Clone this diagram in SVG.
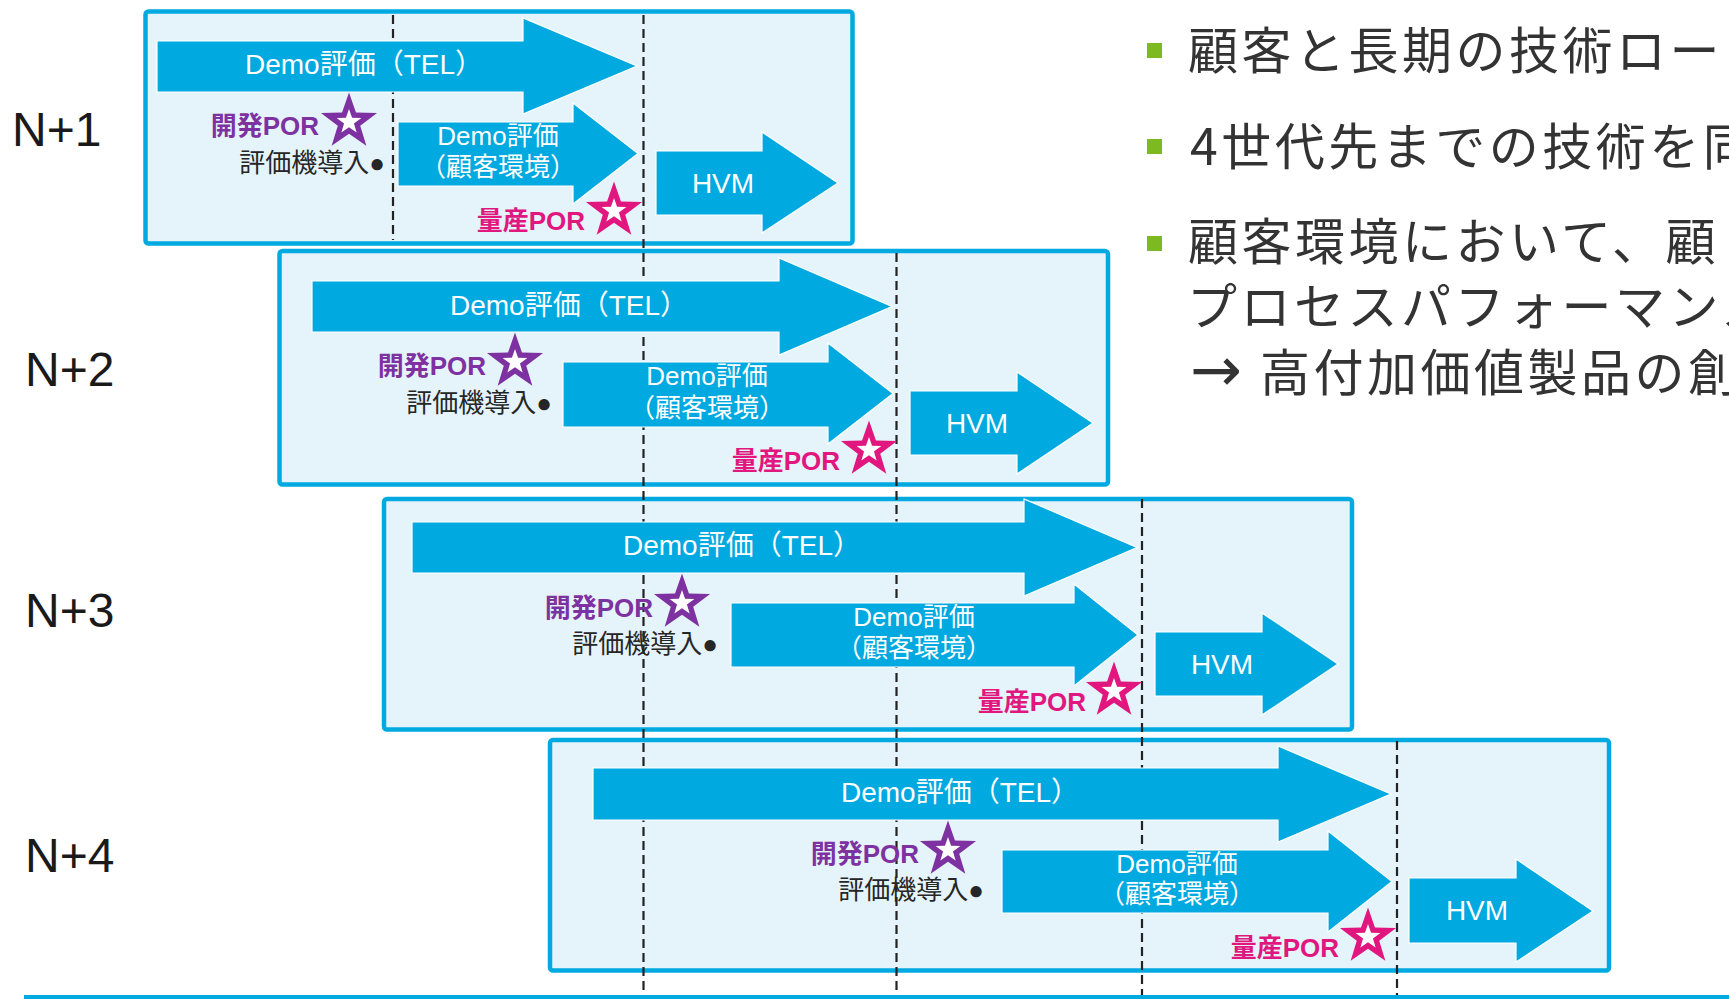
<svg xmlns="http://www.w3.org/2000/svg" xmlns:xlink="http://www.w3.org/1999/xlink" width="1729" height="1001" viewBox="0 0 1729 1001">
<style>
.frame{fill:#E5F4FA;stroke:#00A9E0;stroke-width:4.5}
.arr{fill:#00A9E0;stroke:#FFFFFF;stroke-width:1.2}
.guide{stroke:#222222;stroke-width:2.2;stroke-dasharray:9 5;fill:none}
.f{font-family:"Liberation Sans","Noto Sans CJK JP",sans-serif}
.wt{fill:#FFFFFF}
.tel{font-size:28px}
.cust{font-size:26px;text-anchor:middle}
.hvm{font-size:28px;text-anchor:middle}
.dev{fill:#7E31A1;font-weight:bold;font-size:26px;text-anchor:end}
.mass{fill:#E1177F;font-weight:bold;font-size:26px;text-anchor:end}
.intro{fill:#262626;font-size:26px;text-anchor:end}
.lbl{font-size:48px;fill:#1A1A1A}
.body{font-family:"Noto Sans CJK JP",sans-serif;font-size:50px;fill:#333333;letter-spacing:3.5px}
.bul{fill:#7CBA20}
</style>
<defs>
<g id="star">
<polygon points="0,-29.5 6.94,-9.55 28.06,-9.12 11.22,3.65 17.34,23.87 0,11.8 -17.34,23.87 -11.22,3.65 -28.06,-9.12 -6.94,-9.55"/>
<polygon fill="#FFFFFF" points="0,-13 3.06,-4.21 12.36,-4.02 4.95,1.61 7.64,10.52 0,5.2 -7.64,10.52 -4.95,1.61 -12.36,-4.02 -3.06,-4.21"/>
</g>
</defs>
<rect width="1729" height="1001" fill="#FFFFFF"/>

<g id="frames">
<rect class="frame" x="145.5" y="11.5" width="707" height="232" rx="3"/>
<rect class="frame" x="279.5" y="251" width="828.5" height="233.5" rx="3"/>
<rect class="frame" x="384" y="499" width="968" height="230.5" rx="3"/>
<rect class="frame" x="550" y="740" width="1059" height="230.5" rx="3"/>
</g>

<g id="connectors">
<line class="guide" x1="393" y1="15" x2="393" y2="240"/>
<line class="guide" x1="643.5" y1="15" x2="643.5" y2="995"/>
<line class="guide" x1="896.5" y1="253" x2="896.5" y2="995"/>
<line class="guide" x1="1142" y1="499" x2="1142" y2="995"/>
<line class="guide" x1="1397" y1="741" x2="1397" y2="995"/>
<line x1="24" y1="997" x2="1729" y2="997" stroke="#00A9E0" stroke-width="4"/>
</g>

<g id="labels" class="f">
<text class="lbl" x="12" y="146">N+1</text>
<text class="lbl" x="25" y="386">N+2</text>
<text class="lbl" x="25" y="627">N+3</text>
<text class="lbl" x="25" y="872">N+4</text>
</g>

<g id="row-n1" class="f">
<polygon class="arr" points="157,41 523,41 523,18 637,66 523,114 523,92 157,92"/>
<polygon class="arr" points="398,122 573,122 573,103 638,153.5 573,204 573,186 398,186"/>
<polygon class="arr" points="656,151 762,151 762,132 838,183 762,233 762,215 656,215"/>
<text class="wt tel" x="245" y="74">Demo評価（TEL）</text>
<text class="wt cust" x="498" y="145">Demo評価</text>
<text class="wt cust" x="498" y="176">（顧客環境）</text>
<text class="wt hvm" x="723" y="193">HVM</text>
<text class="dev" x="319" y="135">開発POR</text>
<text class="intro" x="385" y="172">評価機導入●</text>
<text class="mass" x="585" y="230">量産POR</text>
<use xlink:href="#star" x="349" y="122" fill="#7E31A1"/>
<use xlink:href="#star" x="614" y="211" fill="#E1177F"/>
</g>

<g id="row-n2" class="f">
<polygon class="arr" points="312,281 779,281 779,258 892,306.5 779,355 779,332 312,332"/>
<polygon class="arr" points="563,362 828,362 828,343 893,393.5 828,444 828,427 563,427"/>
<polygon class="arr" points="910,391 1017,391 1017,372 1093,423 1017,474 1017,455 910,455"/>
<text class="wt tel" x="450" y="315">Demo評価（TEL）</text>
<text class="wt cust" x="707" y="385">Demo評価</text>
<text class="wt cust" x="707" y="417">（顧客環境）</text>
<text class="wt hvm" x="977" y="433">HVM</text>
<text class="dev" x="486" y="375">開発POR</text>
<text class="intro" x="552" y="412">評価機導入●</text>
<text class="mass" x="840" y="470">量産POR</text>
<use xlink:href="#star" x="515" y="362" fill="#7E31A1"/>
<use xlink:href="#star" x="869" y="450" fill="#E1177F"/>
</g>

<g id="row-n3" class="f">
<polygon class="arr" points="412,522 1024,522 1024,499 1137,547.5 1024,596 1024,573 412,573"/>
<polygon class="arr" points="731,603 1074,603 1074,584 1138,635 1074,686 1074,667 731,667"/>
<polygon class="arr" points="1155,632 1262,632 1262,613 1338,664 1262,715 1262,696 1155,696"/>
<text class="wt tel" x="623" y="555">Demo評価（TEL）</text>
<text class="wt cust" x="914" y="626">Demo評価</text>
<text class="wt cust" x="914" y="657">（顧客環境）</text>
<text class="wt hvm" x="1222" y="674">HVM</text>
<text class="dev" x="653" y="617">開発POR</text>
<text class="intro" x="718" y="653">評価機導入●</text>
<text class="mass" x="1086" y="711">量産POR</text>
<use xlink:href="#star" x="682" y="603" fill="#7E31A1"/>
<use xlink:href="#star" x="1114" y="691" fill="#E1177F"/>
</g>

<g id="row-n4" class="f">
<polygon class="arr" points="593,768 1278,768 1278,746 1391,794 1278,842 1278,820 593,820"/>
<polygon class="arr" points="1002,850 1328,850 1328,831 1392,881.5 1328,932 1328,913 1002,913"/>
<polygon class="arr" points="1409,878 1516,878 1516,859 1593,911 1516,962 1516,943 1409,943"/>
<text class="wt tel" x="841" y="802">Demo評価（TEL）</text>
<text class="wt cust" x="1177" y="873">Demo評価</text>
<text class="wt cust" x="1177" y="903">（顧客環境）</text>
<text class="wt hvm" x="1477" y="920">HVM</text>
<text class="dev" x="919" y="863">開発POR</text>
<text class="intro" x="984" y="899">評価機導入●</text>
<text class="mass" x="1339" y="957">量産POR</text>
<use xlink:href="#star" x="948" y="850" fill="#7E31A1"/>
<use xlink:href="#star" x="1368" y="937" fill="#E1177F"/>
</g>

<g id="bullets">
<rect class="bul" x="1147" y="43" width="15" height="15"/>
<rect class="bul" x="1147" y="139" width="15" height="15"/>
<rect class="bul" x="1147" y="236" width="15" height="15"/>
<text class="body" x="1188" y="68.5">顧客と長期の技術ロー</text>
<text class="body" x="1190" y="164.5">4世代先までの技術を同</text>
<text class="body" x="1188" y="259.5">顧客環境において、顧</text>
<text class="body" x="1187" y="324.5">プロセスパフォーマンス</text>
<text class="body" x="1190" y="391"><tspan font-family="DejaVu Sans" font-size="62px" letter-spacing="0">→</tspan><tspan x="1260">高付加価値製品の創</tspan></text>
</g>
</svg>
